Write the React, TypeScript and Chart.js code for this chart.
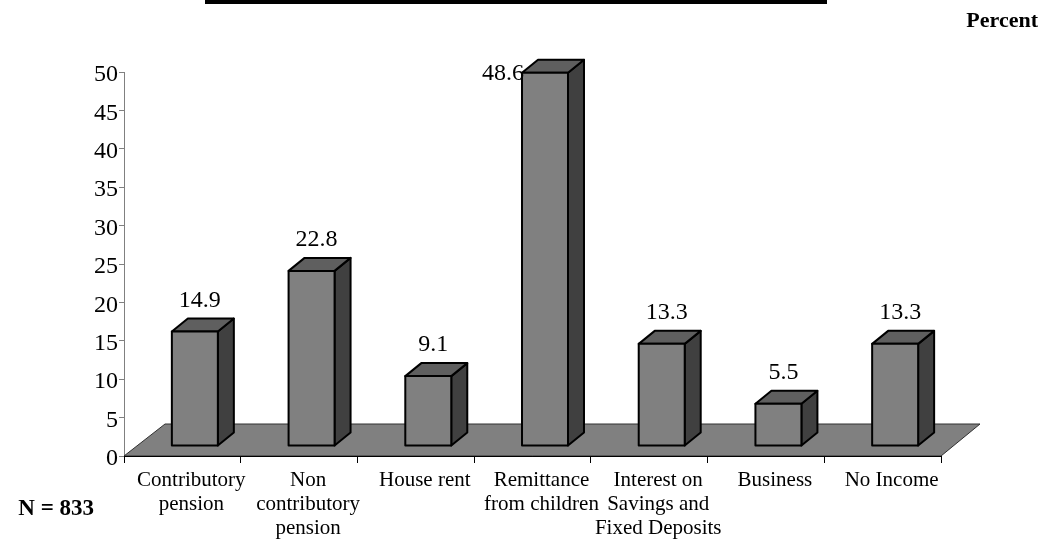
import React, { useEffect, useRef } from 'react';
import { Chart, registerables } from 'chart.js';

Chart.register(...registerables);

// ---- data ----
const categories: (string | string[])[] = [
  ['Contributory', 'pension'],
  ['Non', 'contributory', 'pension'],
  'House rent',
  ['Remittance', 'from children'],
  ['Interest on', 'Savings and', 'Fixed Deposits'],
  'Business',
  'No Income',
];
const percentValues = [14.9, 22.8, 9.1, 48.6, 13.3, 5.5, 13.3];
const valueLabels = ['14.9', '22.8', '9.1', '48.6', '13.3', '5.5', '13.3'];
const yMin = 0;
const yMax = 50;
const yStep = 5;
const unitLabel = 'Percent';
const sampleNote = 'N = 833';

const FONT = "'Liberation Serif', 'Times New Roman', serif";

const bar3d = {
  id: 'bar3d',
  beforeDatasetsDraw(chart: any) {
    const { ctx, chartArea: a } = chart;
    ctx.save();
    ctx.beginPath();
    ctx.moveTo(a.left, a.bottom);
    ctx.lineTo(a.right, a.bottom);
    ctx.lineTo(a.right + 39, a.bottom - 32);
    ctx.lineTo(a.left + 41, a.bottom - 32);
    ctx.closePath();
    ctx.fillStyle = '#808080';
    ctx.fill();
    ctx.strokeStyle = '#303030';
    ctx.lineWidth = 1;
    ctx.stroke();
    ctx.beginPath();
    ctx.moveTo(a.left, Math.round(a.bottom) + 0.5);
    ctx.lineTo(a.right, Math.round(a.bottom) + 0.5);
    ctx.strokeStyle = '#000';
    ctx.stroke();
    ctx.restore();
  },
  afterDatasetsDraw(chart: any) {
    const { ctx, chartArea: a } = chart;
    const meta = chart.getDatasetMeta(0);
    const fdx = 12.5, fdy = -10; // front-face shift into the floor
    const ddx = 16, ddy = -13; // bar depth
    ctx.save();
    ctx.lineWidth = 2;
    ctx.lineJoin = 'round';
    ctx.strokeStyle = '#000';
    meta.data.forEach((el: any, i: number) => {
      const p = el.getProps(['x', 'y', 'base', 'width'], true);
      const left = p.x - p.width / 2 + fdx;
      const right = left + p.width;
      const top = p.y + fdy;
      const bottom = p.base + fdy;
      // side
      ctx.beginPath();
      ctx.moveTo(right, bottom);
      ctx.lineTo(right, top);
      ctx.lineTo(right + ddx, top + ddy);
      ctx.lineTo(right + ddx, bottom + ddy);
      ctx.closePath();
      ctx.fillStyle = '#404040';
      ctx.fill();
      ctx.stroke();
      // top
      ctx.beginPath();
      ctx.moveTo(left, top);
      ctx.lineTo(right, top);
      ctx.lineTo(right + ddx, top + ddy);
      ctx.lineTo(left + ddx, top + ddy);
      ctx.closePath();
      ctx.fillStyle = '#5f5f5f';
      ctx.fill();
      ctx.stroke();
      // front
      ctx.beginPath();
      ctx.rect(left, top, p.width, bottom - top);
      ctx.fillStyle = '#808080';
      ctx.fill();
      ctx.stroke();
      // value label
      ctx.fillStyle = '#000';
      ctx.font = `24px ${FONT}`;
      ctx.textBaseline = 'middle';
      const ly = top + ddy - 18;
      if (ly - 12 < a.top) {
        ctx.textAlign = 'right';
        ctx.fillText(valueLabels[i], left + 2, top + 1);
      } else {
        ctx.textAlign = 'center';
        ctx.fillText(valueLabels[i], left + p.width / 2 + 5, ly);
      }
    });
    ctx.restore();
  },
  afterDraw(chart: any) {
    const { ctx } = chart;
    ctx.save();
    ctx.fillStyle = '#000';
    ctx.fillRect(205, 0, 622, 4);
    ctx.textBaseline = 'alphabetic';
    ctx.font = `bold 22px ${FONT}`;
    ctx.textAlign = 'right';
    ctx.fillText(unitLabel, 1038, 27);
    ctx.font = `bold 23px ${FONT}`;
    ctx.textAlign = 'right';
    ctx.fillText(sampleNote, 94, 515);
    ctx.restore();
  },
};

export default function App() {
  const ref = useRef<HTMLCanvasElement>(null);
  useEffect(() => {
    const chart = new Chart(ref.current as HTMLCanvasElement, {
      type: 'bar',
      data: {
        labels: categories,
        datasets: [
          {
            data: percentValues,
            backgroundColor: 'rgba(0,0,0,0)',
            borderWidth: 0,
            categoryPercentage: 1,
            barPercentage: 0.394,
          },
        ],
      },
      options: {
        responsive: false,
        animation: false,
        layout: { padding: { left: 0, top: 72, right: 103, bottom: 0 } },
        plugins: {
          legend: { display: false },
          tooltip: { enabled: false },
          title: { display: false },
        },
        scales: {
          x: {
            type: 'category',
            offset: true,
            grid: {
              display: true,
              drawOnChartArea: false,
              drawTicks: true,
              tickLength: 7,
              color: '#000',
              offset: true,
            },
            border: { display: true, color: '#000', width: 1 },
            ticks: {
              color: '#000',
              font: { family: FONT, size: 21, lineHeight: 1.15 },
              padding: 5,
              labelOffset: 9,
              maxRotation: 0,
              minRotation: 0,
              autoSkip: false,
            },
            afterFit: (s: any) => {
              s.height = 83;
            },
          },
          y: {
            min: yMin,
            max: yMax,
            ticks: {
              stepSize: yStep,
              color: '#000',
              font: { family: FONT, size: 24 },
              padding: 1,
              labelOffset: 3,
            },
            grid: { drawOnChartArea: false, tickLength: 5, color: '#808080' },
            border: { display: true, color: '#808080' },
            afterFit: (s: any) => {
              s.width = 124;
            },
          },
        },
      },
      plugins: [bar3d],
    } as any);
    return () => chart.destroy();
  }, []);
  return (
    <div style={{ position: 'absolute', left: 0, top: 0, width: 1044, height: 539, background: '#fff' }}>
      <canvas ref={ref} width={1044} height={539} style={{ display: 'block' }} />
    </div>
  );
}
